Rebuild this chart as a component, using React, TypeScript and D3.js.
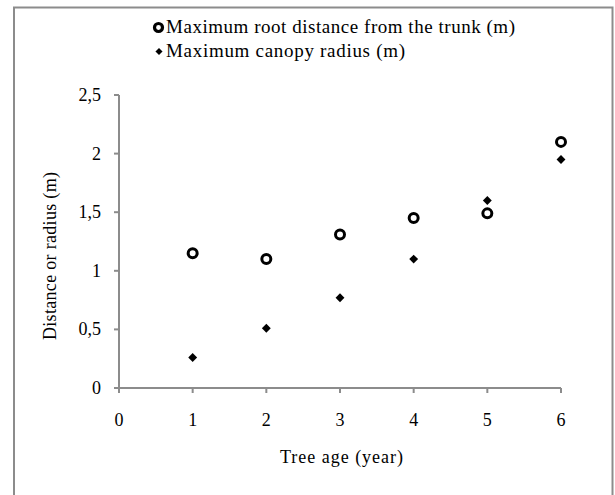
import React from "react";
import * as d3 from "d3";

const years = [1, 2, 3, 4, 5, 6];
const rootDistance = [1.15, 1.1, 1.31, 1.45, 1.49, 2.1];
const canopyRadius = [0.26, 0.51, 0.77, 1.1, 1.6, 1.95];
const xTicks = [0, 1, 2, 3, 4, 5, 6];
const yTicks = [0, 0.5, 1, 1.5, 2, 2.5];
const legendLabels = ["Maximum root distance from the trunk (m)", "Maximum canopy radius (m)"];

export default function App() {
  const W = 615, H = 495;
  const x = d3.scaleLinear().domain([0, 6]).range([119, 561]);
  const y = d3.scaleLinear().domain([0, 2.5]).range([388, 95]);
  const axisColor = "#8c8c8c";
  const font = "'Liberation Serif', 'Times New Roman', serif";
  const ts = { fontFamily: font, fill: "#000" } as React.CSSProperties;
  const fmt = (v: number) => String(v).replace(".", ",");
  const diamond = d3.symbol().type(d3.symbolDiamond2).size(50)();
  return (
    <svg width={W} height={H} style={{ position: "absolute", left: 0, top: 0 }}>
      <rect x={0} y={0} width={W} height={H} fill="#fff" />
      <rect x={14} y={7.5} width={598.5} height={500} fill="none" stroke={axisColor} strokeWidth={2} />
      {/* Y axis */}
      <line x1={x(0)} x2={x(0)} y1={y(2.5)} y2={y(0)} stroke={axisColor} strokeWidth={2} />
      {yTicks.map((t) => (
        <g key={"y" + t}>
          <line x1={x(0) - 5} x2={x(0)} y1={y(t)} y2={y(t)} stroke={axisColor} strokeWidth={2} />
          <text x={101} y={y(t) + 6} textAnchor="end" fontSize={18} style={ts}>{fmt(t)}</text>
        </g>
      ))}
      {/* X axis */}
      <line x1={x(0)} x2={x(6)} y1={y(0)} y2={y(0)} stroke={axisColor} strokeWidth={2} />
      {xTicks.map((t) => (
        <g key={"x" + t}>
          <line x1={x(t)} x2={x(t)} y1={y(0)} y2={y(0) + 5} stroke={axisColor} strokeWidth={2} />
          <text x={x(t)} y={426} textAnchor="middle" fontSize={18} style={ts}>{t}</text>
        </g>
      ))}
      <text x={280} y={463} fontSize={18} textLength={123} lengthAdjust="spacing" style={ts}>Tree age (year)</text>
      <text transform={`translate(56,340) rotate(-90)`} fontSize={18} textLength={168} lengthAdjust="spacing" style={ts}>Distance or radius (m)</text>
      {/* Data */}
      {years.map((yr, i) => (
        <circle key={"r" + yr} cx={x(yr)} cy={y(rootDistance[i])} r={4.5} fill="#fff" stroke="#000" strokeWidth={3} />
      ))}
      {years.map((yr, i) => (
        <path key={"c" + yr} d={diamond!} transform={`translate(${x(yr)},${y(canopyRadius[i])})`} fill="#000" />
      ))}
      {/* Legend */}
      <circle cx={158.5} cy={27.5} r={4} fill="#fff" stroke="#000" strokeWidth={3.2} />
      <text x={166} y={33} fontSize={19} textLength={349} lengthAdjust="spacing" style={ts}>{legendLabels[0]}</text>
      <path d={d3.symbol().type(d3.symbolDiamond2).size(32)()!} transform="translate(159,51.5)" fill="#000" />
      <text x={166} y={57} fontSize={19} textLength={239} lengthAdjust="spacing" style={ts}>{legendLabels[1]}</text>
    </svg>
  );
}
